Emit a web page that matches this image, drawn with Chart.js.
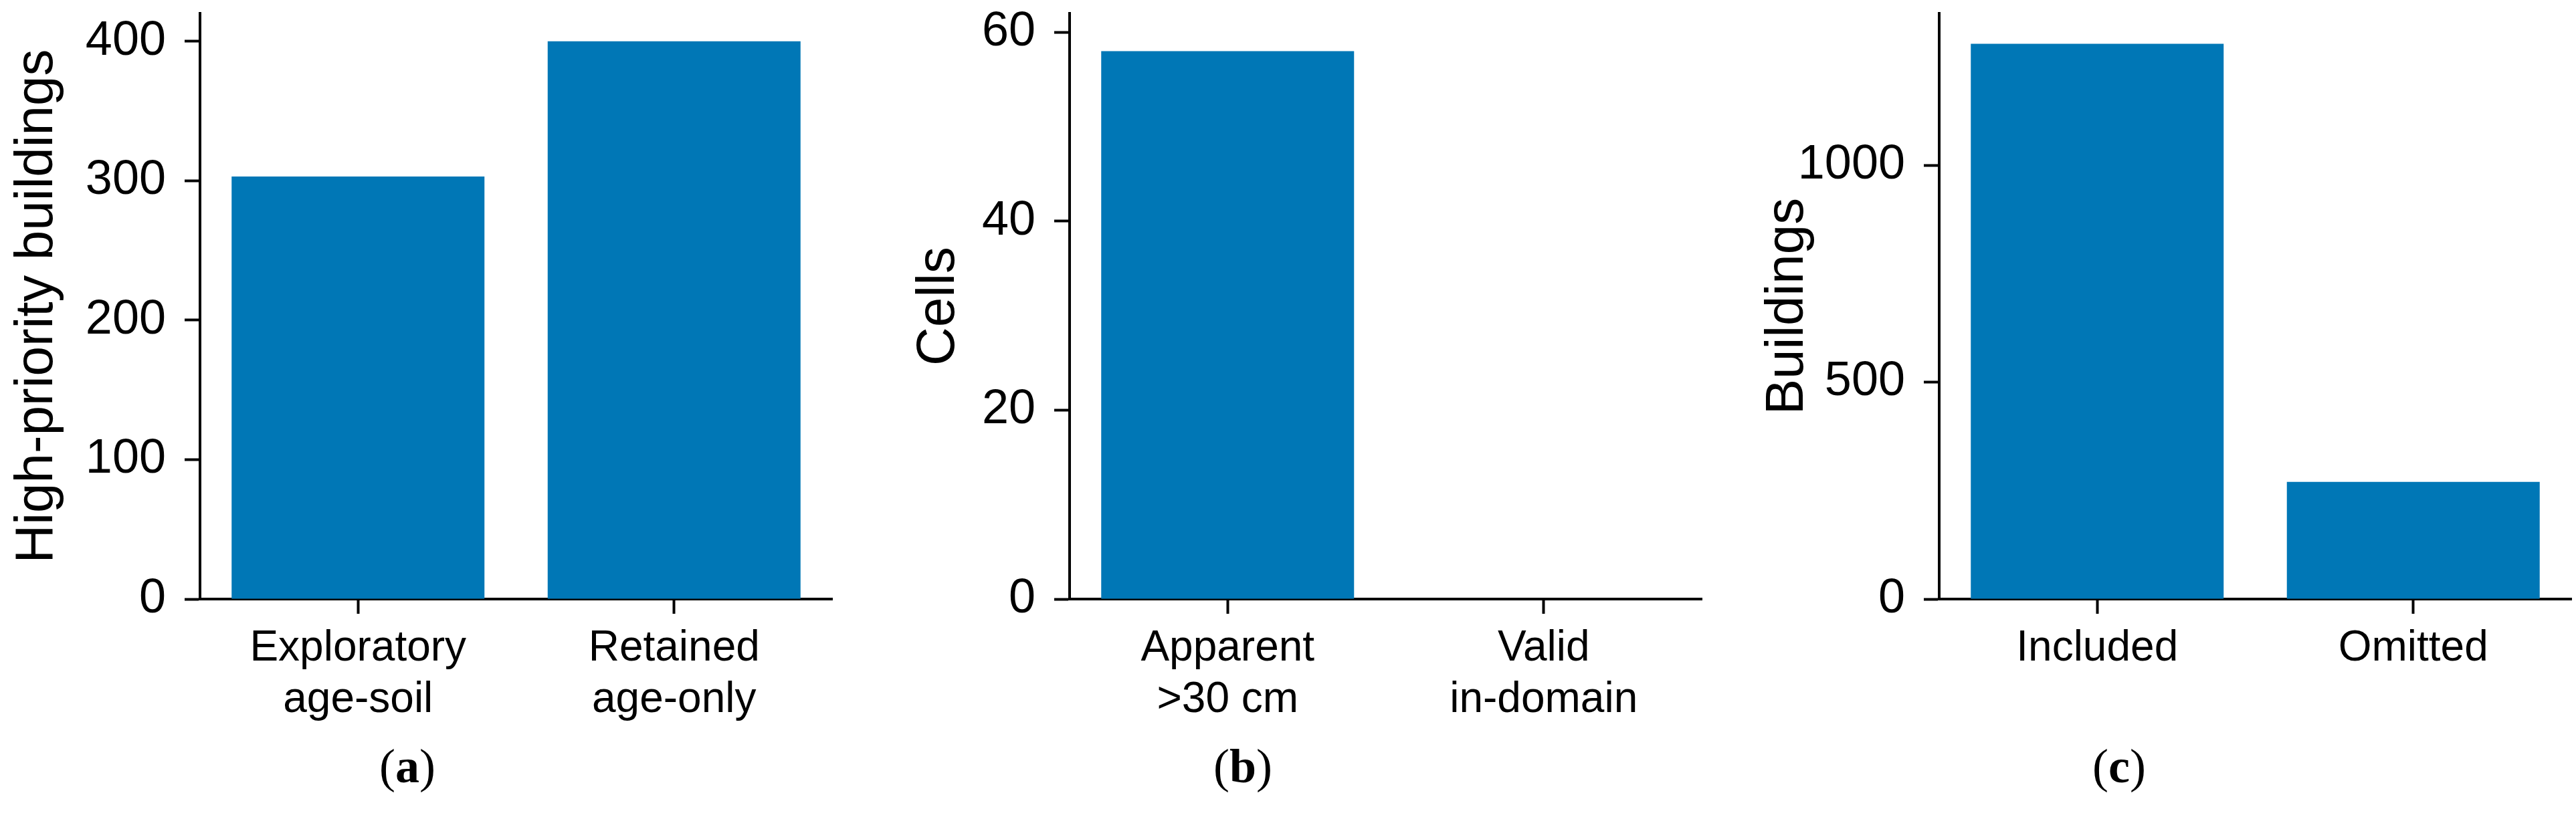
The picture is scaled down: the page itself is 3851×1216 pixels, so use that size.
<!DOCTYPE html>
<html>
<head>
<meta charset="utf-8">
<script src="https://cdn.jsdelivr.net/npm/chart.js@4.4.0/dist/chart.umd.min.js"></script>
<style>
html, body { margin: 0; padding: 0; background: #fff; overflow: hidden; }
.panel { position: absolute; top: 0; width: 1300px; height: 1216px; }
.tag { position: absolute; font-family: "Liberation Serif", serif; font-size: 72px; color: #000;
       transform: translate(-50%, -50%); white-space: nowrap; }
</style>
</head>
<body>
<div class="panel" style="left:0px"><canvas id="chartA" width="1300" height="1216"></canvas></div>
<div class="panel" style="left:1300px"><canvas id="chartB" width="1300" height="1216"></canvas></div>
<div class="panel" style="left:2600px"><canvas id="chartC" width="1300" height="1216"></canvas></div>
<div class="tag" style="left:609px; top:1146px">(<b>a</b>)</div>
<div class="tag" style="left:1858px; top:1146px">(<b>b</b>)</div>
<div class="tag" style="left:3168px; top:1146px">(<b>c</b>)</div>
<script>
// panel (a)
const labelsA = [['Exploratory', 'age-soil'], ['Retained', 'age-only']];
const valuesA = [303, 400];
const ticksA = [0, 100, 200, 300, 400];
// panel (b)
const labelsB = [['Apparent', '>30 cm'], ['Valid', 'in-domain']];
const valuesB = [58, 0];
const ticksB = [0, 20, 40, 60];
// panel (c)
const labelsC = ['Included', 'Omitted'];
const valuesC = [1280, 270];
const ticksC = [0, 500, 1000];

const barColor = '#0077b6';
const fontFamily = '"Liberation Sans", Arial, sans-serif';

function makePanel(id, labels, values, yTitle, yMax, yTicks, titlePad) {
    const ctx = document.getElementById(id).getContext('2d');
    return new Chart(ctx, {
        type: 'bar',
        data: {
            labels: labels,
            datasets: [{
                data: values,
                backgroundColor: barColor,
                borderWidth: 0,
                barPercentage: 0.8,
                categoryPercentage: 1.0
            }]
        },
        options: {
            responsive: false,
            animation: false,
            layout: { padding: { top: 20, right: 56, left: 0, bottom: 0 } },
            plugins: { legend: { display: false }, tooltip: { enabled: false } },
            scales: {
                x: {
                    grid: { offset: false, drawOnChartArea: false, drawTicks: true, tickLength: 22, tickWidth: 4, tickColor: '#000' },
                    border: { display: true, color: '#000', width: 4 },
                    ticks: { color: '#000', font: { family: fontFamily, size: 64, lineHeight: 1.2 }, padding: 14, maxRotation: 0, autoSkip: false },
                    afterFit: function (s) {
                        s.height = 320;
                        s.paddingLeft = 0;
                        s.paddingRight = 0;
                    }
                },
                y: {
                    min: 0,
                    max: yMax,
                    afterBuildTicks: function (s) { s.ticks = yTicks.map(v => ({ value: v })); },
                    grid: { drawOnChartArea: false, drawTicks: true, tickLength: 23, tickWidth: 4, tickColor: '#000' },
                    border: { display: true, color: '#000', width: 4 },
                    ticks: {
                        color: '#000',
                        font: { family: fontFamily, size: 72 },
                        padding: 28,
                        callback: function (v) { return String(v); }
                    },
                    title: {
                        display: true,
                        text: yTitle,
                        color: '#000',
                        font: { family: fontFamily, size: 80, lineHeight: 1.2 },
                        padding: { top: titlePad, bottom: 0 }
                    },
                    afterFit: function (s) {
                        s.width = 299;
                        s.paddingTop = 0;
                        s.paddingBottom = 0;
                    }
                }
            }
        }
    });
}

makePanel('chartA', labelsA, valuesA, 'High-priority buildings', 420, ticksA, 8);
makePanel('chartB', labelsB, valuesB, 'Cells', 62, ticksB, 56);
makePanel('chartC', labelsC, valuesC, 'Buildings', 1350, ticksC, 25);
</script>
</body>
</html>
